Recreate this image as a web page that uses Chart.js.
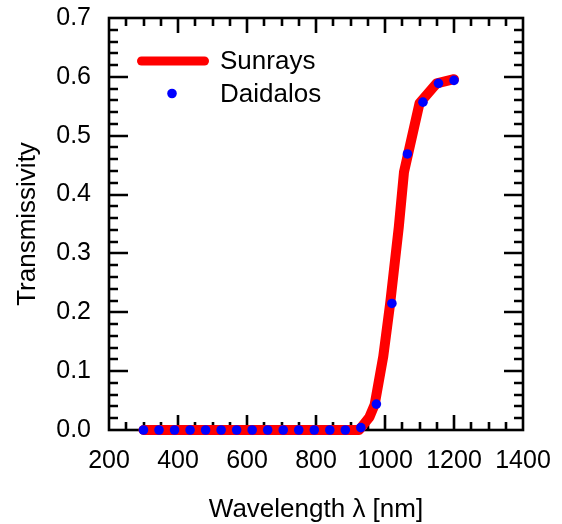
<!DOCTYPE html>
<html>
<head>
<meta charset="utf-8">
<script src="https://cdn.jsdelivr.net/npm/chart.js@4/dist/chart.umd.min.js"></script>
<style>
html,body{margin:0;padding:0;background:#fff;}
#wrap{width:562px;height:524px;position:relative;}
</style>
</head>
<body>
<div id="wrap"><canvas id="c" width="562" height="524"></canvas></div>
<script>
// ---- data ----
const sunraysX = [300, 350, 400, 450, 500, 550, 600, 650, 700, 750, 800, 850, 900, 925, 955, 970, 995, 1015, 1040, 1055, 1100, 1150, 1200];
const sunraysY = [0, 0, 0, 0, 0, 0, 0, 0, 0, 0, 0, 0, 0, 0, 0.022, 0.043, 0.125, 0.215, 0.345, 0.438, 0.555, 0.589, 0.596];
const daidalosX = [300, 345, 390, 435, 480, 525, 570, 615, 660, 705, 750, 795, 840, 885, 930, 975, 1020, 1065, 1110, 1155, 1200];
const daidalosY = [0, 0, 0, 0, 0, 0, 0, 0, 0, 0, 0, 0, 0, 0, 0.004, 0.044, 0.215, 0.469, 0.557, 0.589, 0.594];
const seriesNames = ['Sunrays', 'Daidalos'];
const xTitle = 'Wavelength λ [nm]';
const yTitle = 'Transmissivity';
const xRange = [200, 1400], xMajor = 200, xMinor = 50;
const yRange = [0, 0.7], yMajor = 0.1, yMinor = 0.02;

const FONT = "'Liberation Sans', Arial, Helvetica, sans-serif";

const framePlugin = {
  id: 'frame',
  beforeDatasetsDraw(chart) {
    const {ctx, chartArea: a, scales: {x, y}} = chart;
    ctx.save();
    ctx.strokeStyle = '#000';
    ctx.lineWidth = 2.6;
    ctx.lineCap = 'butt';
    ctx.beginPath();
    const nx = Math.round((xRange[1] - xRange[0]) / xMinor);
    for (let i = 1; i < nx; i++) {
      const v = xRange[0] + i * xMinor;
      const px = Math.round(x.getPixelForValue(v));
      const len = (i % (xMajor / xMinor) === 0) ? 15 : 8;
      ctx.moveTo(px, a.bottom); ctx.lineTo(px, a.bottom - len);
      ctx.moveTo(px, a.top); ctx.lineTo(px, a.top + len);
    }
    const ny = Math.round((yRange[1] - yRange[0]) / yMinor);
    for (let i = 1; i < ny; i++) {
      const v = yRange[0] + i * yMinor;
      const py = Math.round(y.getPixelForValue(v));
      const len = (i % Math.round(yMajor / yMinor) === 0) ? 19 : 9;
      ctx.moveTo(a.left, py); ctx.lineTo(a.left + len, py);
      ctx.moveTo(a.right, py); ctx.lineTo(a.right - len, py);
    }
    ctx.stroke();
    ctx.strokeRect(a.left, a.top, a.right - a.left, a.bottom - a.top);
    ctx.restore();
  },
  afterDraw(chart) {
    const {ctx} = chart;
    const ds = chart.data.datasets;
    ctx.save();
    ctx.strokeStyle = ds[0].borderColor;
    ctx.lineWidth = 9;
    ctx.lineCap = 'round';
    ctx.beginPath();
    ctx.moveTo(141.5, 61); ctx.lineTo(204.5, 61);
    ctx.stroke();
    ctx.fillStyle = ds[1].backgroundColor;
    ctx.beginPath();
    ctx.arc(172, 93.5, ds[1].pointRadius, 0, Math.PI * 2);
    ctx.fill();
    ctx.fillStyle = '#000';
    ctx.font = '26px ' + FONT;
    ctx.textBaseline = 'middle';
    ctx.textAlign = 'left';
    ctx.fillText(ds[0].label, 220, 62);
    ctx.fillText(ds[1].label, 220, 95);
    ctx.restore();
  }
};

new Chart(document.getElementById('c'), {
  type: 'scatter',
  data: {
    datasets: [
      {
        label: seriesNames[0],
        data: sunraysX.map((v, i) => ({x: v, y: sunraysY[i]})),
        showLine: true,
        borderColor: '#ff0000',
        backgroundColor: '#ff0000',
        borderWidth: 10,
        borderCapStyle: 'round',
        borderJoinStyle: 'round',
        pointRadius: 0,
        tension: 0,
        clip: false,
        order: 2
      },
      {
        label: seriesNames[1],
        data: daidalosX.map((v, i) => ({x: v, y: daidalosY[i]})),
        showLine: false,
        backgroundColor: '#0000ff',
        borderColor: '#0000ff',
        borderWidth: 0,
        pointRadius: 4.8,
        clip: false,
        order: 1
      }
    ]
  },
  options: {
    responsive: false,
    animation: false,
    devicePixelRatio: 1,
    layout: {padding: {left: 0, right: 39, top: 18, bottom: 0}},
    plugins: {legend: {display: false}, tooltip: {enabled: false}},
    scales: {
      x: {
        type: 'linear',
        min: xRange[0], max: xRange[1],
        grid: {display: false},
        border: {display: false},
        ticks: {
          stepSize: xMajor,
          padding: 8,
          color: '#000',
          font: {family: FONT, size: 25},
          maxRotation: 0,
          callback: v => String(v)
        },
        title: {display: true, text: xTitle, color: '#000', font: {family: FONT, size: 26, lineHeight: 1.1}, padding: {top: 0, bottom: 0}},
        afterFit: s => { s.height = 94; s.paddingLeft = 0; s.paddingRight = 0; }
      },
      y: {
        type: 'linear',
        min: yRange[0], max: yRange[1],
        grid: {display: false},
        border: {display: false},
        ticks: {
          stepSize: yMajor,
          padding: 10,
          color: '#000',
          font: {family: FONT, size: 25},
          callback: v => Number(v).toFixed(1)
        },
        title: {display: true, text: yTitle, color: '#000', font: {family: FONT, size: 26, lineHeight: 1.1}, padding: {top: 14, bottom: 0}},
        afterFit: s => { s.width = 109; s.paddingTop = 0; s.paddingBottom = 0; }
      }
    }
  },
  plugins: [framePlugin]
});
</script>
</body>
</html>
